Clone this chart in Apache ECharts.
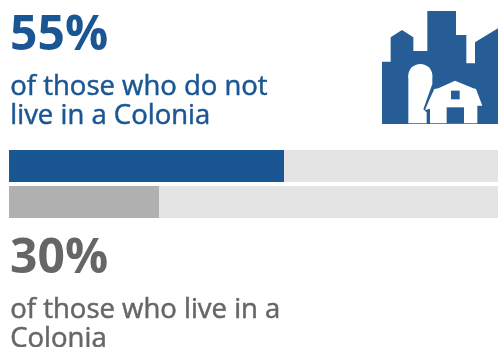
<!DOCTYPE html>
<html><head><meta charset="utf-8">
<style>html,body{margin:0;padding:0;background:#fff;overflow:hidden}#c{width:498px;height:347px}</style>
<script src="https://cdn.jsdelivr.net/npm/echarts@6/dist/echarts.min.js"></script>
</head><body><div id="c"></div>
<script>
const categories = ['of those who do not live in a Colonia', 'of those who live in a Colonia'];
const values = [55, 30];
const totals = [100, 100];
const barColors = ['#1a5694', '#b0b0b0'];
const trackColor = '#e4e4e4';
const blue = '#1a5694', gray = '#666666', iconBlue = '#265d96';
const font = '"Open Sans", sans-serif';
const headline = (t, y, c) => ({type:'text', left:10, top:y, silent:true, style:{text:t, fill:c, font:'bold 48px ' + font}});
const sub = (t, y, c) => ({type:'text', left:10, top:y, silent:true, style:{text:t, fill:c, stroke:c, lineWidth:0.5, font:'500 27.5px ' + font, lineHeight:29}});
const P = a => a.map(p => [370 + p[0]/3, p[1]/3]);
const Q = a => a.map(p => [405 + p[0]/3, 60 + p[1]/3]);
const poly = (pts, fill) => ({type:'polygon', silent:true, shape:{points:pts}, style:{fill}});
const chart = echarts.init(document.getElementById('c'), null, {renderer:'canvas'});
chart.setOption({
  animation:false,
  grid:{left:9, top:148, width:500, height:72, containLabel:false, outerBoundsMode:'none'},
  xAxis:{type:'value', min:0, max:100, show:false},
  yAxis:{type:'category', data:categories, inverse:true, show:false},
  series:[
    {type:'bar', data:totals, barWidth:32, barGap:'-100%', silent:true, itemStyle:{color:trackColor}, z:1},
    {type:'bar', data:values.map((v,i)=>({value:v,itemStyle:{color:barColors[i]}})), barWidth:32, silent:true, z:2}
  ],
  graphic:[
    headline('55%', 12, blue),
    sub('of those who do not\nlive in a Colonia', 73, blue),
    headline('30%', 235, gray),
    sub('of those who live in a\nColonia', 296, gray),
    poly(P([[36,372],[36,185],[62,185],[62,112],[96,90],[130,112],[130,153],[172,153],[172,33],[258,33],[258,105],[289,105],[289,190],[315,190],[315,127],[384,85],[384,372]]), iconBlue),
    {type:'ellipse', silent:true, shape:{cx:405+46/3, cy:60+46/3, rx:36/3, ry:34/3}, style:{fill:'#fff'}},
    poly(Q([[10,190],[10,46],[82,46],[82,72],[55,148],[65,157],[65,190]]), '#fff'),
    poly(Q([[75,190],[75,146],[60,150],[75,115],[88,87],[100,85],[150,62],[205,85],[213,87],[232,137],[217,137],[217,190]]), '#fff'),
    poly(Q([[125,142],[177,142],[177,190],[125,190]]), iconBlue),
    poly(Q([[138,92],[164,92],[164,118],[138,118]]), iconBlue)
  ]
});
</script></body></html>
